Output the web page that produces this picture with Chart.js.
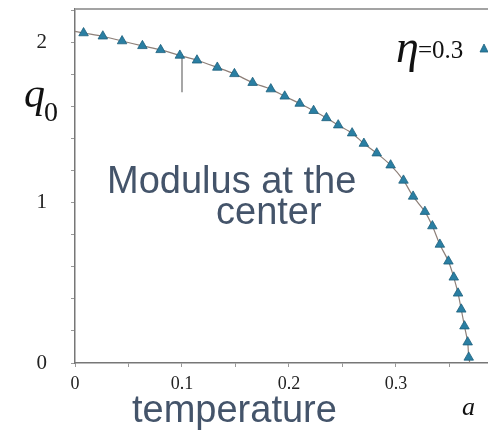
<!DOCTYPE html>
<html>
<head>
<meta charset="utf-8">
<script src="https://cdn.jsdelivr.net/npm/chart.js@4.4.1/dist/chart.umd.min.js"></script>
<style>
  html, body { margin: 0; padding: 0; background: #fff; }
  #wrap { width: 488px; height: 432px; position: relative; }
</style>
</head>
<body>
<div id="wrap"><canvas id="modChart"></canvas></div>
<script>
// temperature a (x) and modulus q0 at the center (y), eta = 0.3
const tempVals = [0.008, 0.026, 0.044, 0.063, 0.080, 0.098, 0.114, 0.133, 0.149, 0.166,
                  0.183, 0.196, 0.210, 0.223, 0.235, 0.246, 0.259, 0.270, 0.282, 0.295,
                  0.307, 0.316, 0.327, 0.334, 0.341, 0.349, 0.354, 0.358, 0.361, 0.364,
                  0.367, 0.368];
const modulusVals = [2.06, 2.04, 2.01, 1.98, 1.955, 1.92, 1.89, 1.845, 1.805, 1.75,
                     1.71, 1.665, 1.62, 1.575, 1.53, 1.485, 1.435, 1.37, 1.31, 1.235,
                     1.14, 1.04, 0.945, 0.855, 0.74, 0.635, 0.535, 0.435, 0.335, 0.23,
                     0.13, 0.035];

// fitted curve ends: value at a = 0 and the critical temperature where q0 vanishes
const curveStart = { x: 0, y: 2.07 };
const curveEnd = { x: 0.369, y: 0 };

// short marker at a = 0.1
const markerX = [0.1, 0.1];
const markerY = [1.925, 1.69];

const xTickLabels = { 0: '0', 0.1: '0.1', 0.2: '0.2', 0.3: '0.3' };
const yTickLabels = { 0: '0', 1: '1', 2: '2' };

const pts = tempVals.map((x, i) => ({ x: x, y: modulusVals[i] }));
const curvePts = [curveStart, ...pts, curveEnd];
const markerPts = markerX.map((x, i) => ({ x: x, y: markerY[i] }));

const serif = '"Liberation Serif", "DejaVu Serif", serif';
const sans = '"Liberation Sans", Arial, sans-serif';

function keyOf(v) {
    return String(Math.round(v * 1000) / 1000);
}

// keep the plot box fixed: no extra room for end labels
function fixPadding(scale) {
    scale.paddingTop = 0;
    scale.paddingBottom = 0;
    scale.paddingLeft = 0;
    scale.paddingRight = 0;
}

const annotationPlugin = {
    id: 'annotationText',
    afterDraw(chart) {
        const ctx = chart.ctx;
        const area = chart.chartArea;
        ctx.save();

        // frame line along the top
        ctx.strokeStyle = '#a3a3a3';
        ctx.lineWidth = 2;
        ctx.beginPath();
        ctx.moveTo(area.left, area.top);
        ctx.lineTo(area.right, area.top);
        ctx.stroke();

        ctx.textBaseline = 'alphabetic';
        ctx.textAlign = 'left';

        // q0 axis symbol
        ctx.fillStyle = '#111';
        ctx.font = 'italic 42px ' + serif;
        ctx.fillText('q', 24, 107);
        ctx.font = '28px ' + serif;
        ctx.fillText('0', 44, 121);

        // a axis symbol
        ctx.font = 'italic 26px ' + serif;
        ctx.fillText('a', 462, 415);

        // legend entry
        ctx.font = 'italic 46px ' + serif;
        ctx.fillText('\u03B7', 396, 62);
        ctx.font = '25px ' + serif;
        ctx.fillText('=0.3', 418, 58);
        ctx.fillStyle = '#2a7fa3';
        ctx.strokeStyle = '#1d5f7c';
        ctx.lineWidth = 0.8;
        ctx.beginPath();
        ctx.moveTo(484, 44);
        ctx.lineTo(488, 52);
        ctx.lineTo(480, 52);
        ctx.closePath();
        ctx.fill();
        ctx.stroke();

        // captions
        ctx.fillStyle = '#44546a';
        ctx.font = '38px ' + sans;
        ctx.fillText('Modulus at the', 107, 193);
        ctx.fillText('center', 216, 224);
        ctx.fillText('temperature', 132, 422);

        ctx.restore();
    }
};

const ctx = document.getElementById('modChart').getContext('2d');
new Chart(ctx, {
    type: 'scatter',
    data: {
        datasets: [
            {
                label: 'eta=0.3',
                data: pts,
                pointStyle: 'triangle',
                pointRadius: 5.5,
                pointBackgroundColor: '#2a7fa3',
                pointBorderColor: '#1d5f7c',
                pointBorderWidth: 0.8,
                showLine: false,
                order: 0
            },
            {
                label: 'curve',
                data: curvePts,
                showLine: true,
                borderColor: '#8d7f78',
                borderWidth: 1.2,
                pointRadius: 0,
                tension: 0.3,
                order: 1
            },
            {
                label: 'marker',
                data: markerPts,
                showLine: true,
                borderColor: '#8a8a8a',
                borderWidth: 1.5,
                pointRadius: 0,
                order: 2
            }
        ]
    },
    options: {
        responsive: true,
        maintainAspectRatio: false,
        animation: false,
        layout: { autoPadding: false, padding: { top: 9, left: 0, right: 0, bottom: 0 } },
        plugins: {
            legend: { display: false },
            tooltip: { enabled: false }
        },
        scales: {
            x: {
                type: 'linear',
                min: 0,
                max: 0.386,
                afterBuildTicks: (scale) => {
                    scale.ticks = [];
                    for (let i = 0; i <= 7; i++) scale.ticks.push({ value: i * 0.05 });
                },
                afterFit: (scale) => { scale.height = 69; fixPadding(scale); },
                border: { color: '#777', width: 1.5 },
                grid: { drawOnChartArea: false, tickLength: 4, color: '#999' },
                ticks: {
                    padding: 6,
                    maxRotation: 0,
                    autoSkip: false,
                    color: '#222',
                    font: { family: serif, size: 18 },
                    callback: (v) => xTickLabels[keyOf(v)] || ''
                }
            },
            y: {
                type: 'linear',
                min: 0,
                max: 2.21,
                afterBuildTicks: (scale) => {
                    scale.ticks = [];
                    for (let i = 0; i <= 11; i++) scale.ticks.push({ value: i * 0.2 });
                },
                afterFit: (scale) => { scale.width = 75; fixPadding(scale); },
                border: { color: '#777', width: 1.5 },
                grid: { drawOnChartArea: false, tickLength: 4, color: '#999' },
                ticks: {
                    padding: 24,
                    autoSkip: false,
                    color: '#222',
                    font: { family: serif, size: 21 },
                    callback: (v) => yTickLabels[keyOf(v)] || ''
                }
            }
        }
    },
    plugins: [annotationPlugin]
});
</script>
</body>
</html>
